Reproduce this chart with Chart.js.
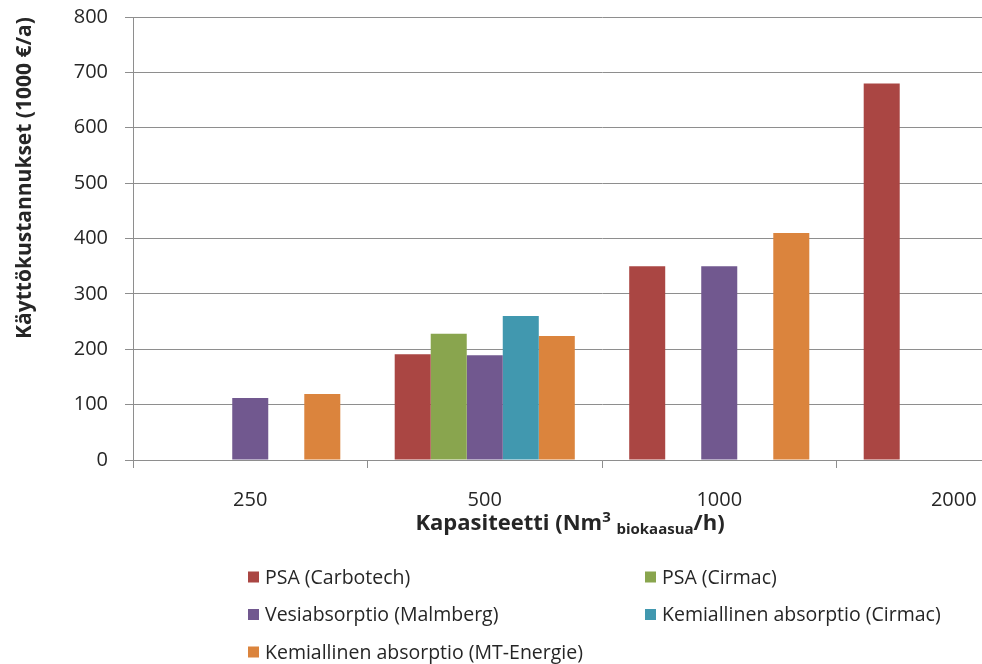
<!DOCTYPE html>
<html lang="fi">
<head>
<meta charset="utf-8">
<title>Käyttökustannukset</title>
<script src="https://cdn.jsdelivr.net/npm/chart.js@4/dist/chart.umd.min.js"></script>
<style>
  html, body { margin: 0; padding: 0; background: #fff; overflow: hidden; }
  /* canvas is raised a little so the plot top sits close to the page edge */
  #wrap { position: absolute; left: 0; top: -12px; width: 1100px; height: 676px; }
</style>
</head>
<body>
<div id="wrap"><canvas id="c" width="1100" height="676"></canvas></div>
<script>
// Capacity classes (Nm3 biogas / h)
const categories = ['250', '500', '1000', '2000'];

// Operating costs, 1000 €/a (null = no data for that capacity)
const psaCarbotech  = [null, 191, 350, 680];
const psaCirmac     = [null, 228, null, null];
const vesiMalmberg  = [112, 189, 350, null];
const kemCirmac     = [null, 260, null, null];
const kemMtEnergie  = [119, 224, 410, null];

const seriesNames = [
  'PSA (Carbotech)',
  'PSA (Cirmac)',
  'Vesiabsorptio (Malmberg)',
  'Kemiallinen absorptio (Cirmac)',
  'Kemiallinen absorptio (MT-Energie)'
];
const seriesColors = ['#AA4643', '#89A54E', '#71588F', '#4198AF', '#DB843D'];

const yTicks = [0, 100, 200, 300, 400, 500, 600, 700, 800];

const FONT = '"Open Sans", "Liberation Sans", sans-serif';
const TEXT = '#262626';
const GRID = '#8e8e8e';
const SHIFT = 12; // canvas offset above the page top

const seriesData = [psaCarbotech, psaCirmac, vesiMalmberg, kemCirmac, kemMtEnergie];

// Axis titles and the two-column legend are drawn straight onto the canvas
const annotations = {
  id: 'annotations',
  afterDraw(chart) {
    const ctx = chart.ctx;
    ctx.save();
    ctx.fillStyle = TEXT;
    ctx.textBaseline = 'alphabetic';

    // x-axis title with superscript and subscript parts
    const parts = [
      { t: 'Kapasiteetti (Nm', f: 'bold 22px ' + FONT, dy: 0 },
      { t: '3', f: 'bold 15px ' + FONT, dy: -8 },
      { t: ' ', f: 'bold 22px ' + FONT, dy: 0 },
      { t: 'biokaasua', f: 'bold 15px ' + FONT, dy: 4 },
      { t: '/h)', f: 'bold 22px ' + FONT, dy: 0 }
    ];
    let total = 0;
    parts.forEach(p => { ctx.font = p.f; p.w = ctx.measureText(p.t).width; total += p.w; });
    let x = 570 - total / 2;
    const base = 530 + SHIFT;
    ctx.textAlign = 'left';
    parts.forEach(p => { ctx.font = p.f; ctx.fillText(p.t, x, base + p.dy); x += p.w; });

    // y-axis title
    ctx.save();
    ctx.translate(31, 178 + SHIFT);
    ctx.rotate(-Math.PI / 2);
    ctx.textAlign = 'center';
    ctx.font = 'bold 21px ' + FONT;
    ctx.fillText('Käyttökustannukset (1000 €/a)', 0, 0);
    ctx.restore();

    // legend in two columns
    const colX = [248, 645];
    ctx.font = '19.5px ' + FONT;
    ctx.textBaseline = 'middle';
    ctx.textAlign = 'left';
    chart.data.datasets.forEach((ds, i) => {
      const cx = colX[i % 2];
      const cy = 577 + SHIFT + Math.floor(i / 2) * 37.5;
      ctx.fillStyle = ds.backgroundColor;
      ctx.fillRect(cx, cy - 5.5, 11, 11);
      ctx.fillStyle = TEXT;
      ctx.fillText(ds.label, cx + 17, cy + 1);
    });
    ctx.restore();
  }
};

new Chart(document.getElementById('c'), {
  type: 'bar',
  data: {
    labels: categories,
    datasets: seriesData.map((d, i) => ({
      label: seriesNames[i],
      data: d,
      backgroundColor: seriesColors[i],
      borderWidth: 0,
      categoryPercentage: 0.768,
      barPercentage: 1.0
    }))
  },
  options: {
    responsive: false,
    animation: false,
    layout: { padding: { left: 0, top: 4, right: 29, bottom: 144 } },
    plugins: { legend: { display: false }, tooltip: { enabled: false } },
    scales: {
      x: {
        grid: { display: true, drawOnChartArea: false, drawTicks: true, tickLength: 8, color: GRID, offset: true },
        border: { display: true, color: GRID, width: 1 },
        ticks: { color: TEXT, font: { family: FONT, size: 20 }, padding: 20, maxRotation: 0 },
        afterFit(s) { s.height = 60; }
      },
      y: {
        min: yTicks[0],
        max: yTicks[yTicks.length - 1],
        afterBuildTicks(s) { s.ticks = yTicks.map(v => ({ value: v })); },
        grid: { color: GRID, tickLength: 8, lineWidth: 1 },
        border: { display: true, color: GRID, width: 1 },
        ticks: { color: TEXT, font: { family: FONT, size: 20 }, padding: 17 },
        afterFit(s) { s.width = 133; }
      }
    }
  },
  plugins: [annotations]
});
</script>
</body>
</html>
